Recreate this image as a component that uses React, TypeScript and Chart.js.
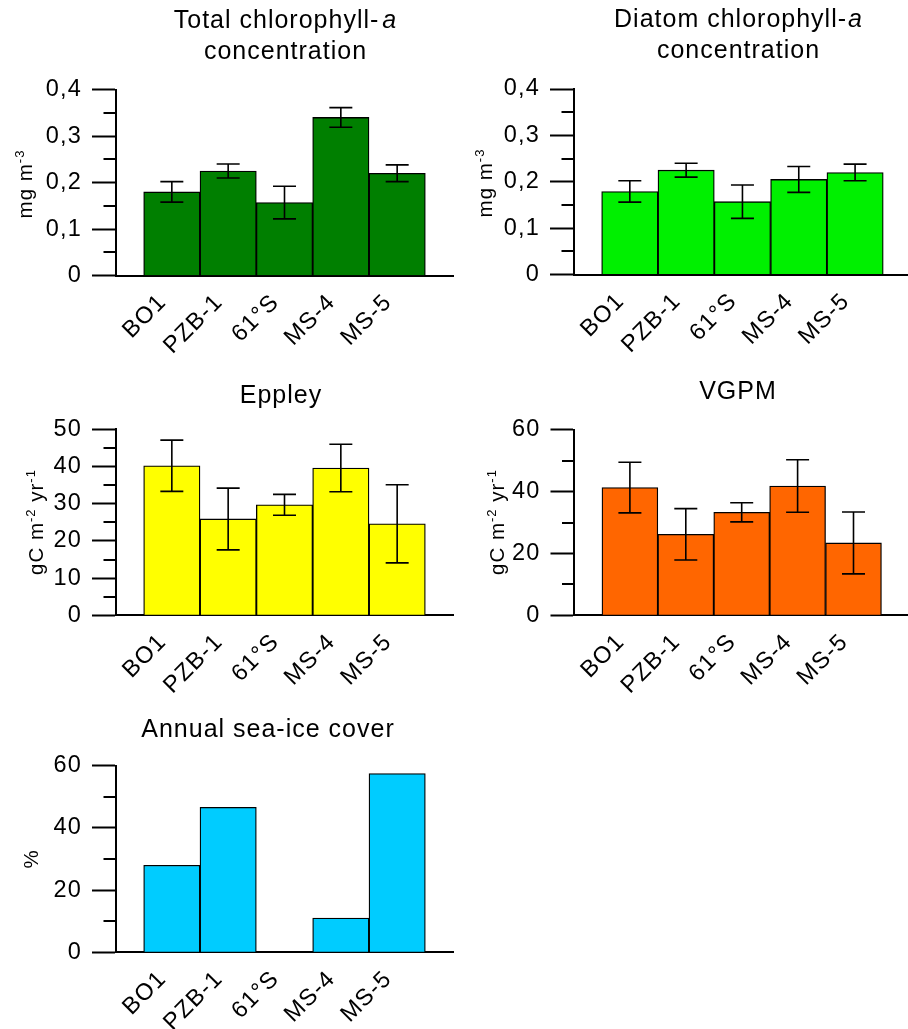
import React, { useEffect, useRef } from 'react';
import { Chart, registerables } from 'chart.js';

Chart.register(...registerables);

const FONT = "'Liberation Sans', Arial, Helvetica, sans-serif";
Chart.defaults.font.family = FONT;

// ---------- data ----------
const categories = ['BO1', 'PZB-1', '61°S', 'MS-4', 'MS-5'];

const totalChlValues = [0.18, 0.225, 0.157, 0.34, 0.22];
const totalChlErrors = [0.022, 0.015, 0.035, 0.021, 0.018];

const diatomChlValues = [0.179, 0.225, 0.157, 0.205, 0.22];
const diatomChlErrors = [0.023, 0.015, 0.036, 0.028, 0.018];

const eppleyValues = [40.2, 25.9, 29.7, 39.6, 24.6];
const eppleyErrors = [6.9, 8.3, 2.8, 6.4, 10.5];

const vgpmValues = [41.3, 26.2, 33.3, 41.8, 23.4];
const vgpmErrors = [8.2, 8.3, 3.1, 8.5, 10.0];

const seaIceValues: (number | null)[] = [28.0, 46.6, null, 11.0, 57.5];
const seaIceErrors: (number | null)[] = [null, null, null, null, null];

// axis ranges: [max, minor step, major step]
const chlAxis = [0.4, 0.05, 0.1];
const eppleyAxis = [50, 5, 10];
const vgpmAxis = [60, 10, 20];
const seaIceAxis = [60, 10, 20];

type Seg = { text: string; italic?: boolean; sup?: boolean; gap?: number };

interface PanelDef {
  key: string;
  values: (number | null)[];
  errors: (number | null)[];
  axis: number[];
  decimals: number;
  color: string;
  title: Seg[][];
  yTitle: Seg[];
  left: number; top: number; width: number; height: number;
  area: { left: number; top: number; right: number; bottom: number };
  titleCx: number; titleBaselines: number[];
  yTitleX: number; yTitleCy: number;
}

const panels: PanelDef[] = [
  {
    key: 'total', values: totalChlValues, errors: totalChlErrors, axis: chlAxis, decimals: 1,
    color: '#007f00',
    title: [[{ text: 'Total chlorophyll-' }, { text: 'a', italic: true, gap: 3 }], [{ text: 'concentration' }]],
    yTitle: [{ text: 'mg m' }, { text: '-3', sup: true }],
    left: 0, top: 0, width: 456, height: 360,
    area: { left: 115.5, top: 89.5, right: 453.5, bottom: 275.7 },
    titleCx: 285.5, titleBaselines: [28.3, 59.3],
    yTitleX: 32, yTitleCy: 184,
  },
  {
    key: 'diatom', values: diatomChlValues, errors: diatomChlErrors, axis: chlAxis, decimals: 1,
    color: '#00f000',
    title: [[{ text: 'Diatom chlorophyll-' }, { text: 'a', italic: true, gap: 1 }], [{ text: 'concentration' }]],
    yTitle: [{ text: 'mg m' }, { text: '-3', sup: true }],
    left: 454, top: 0, width: 460, height: 360,
    area: { left: 119.5, top: 89, right: 457.4, bottom: 274.5 },
    titleCx: 284.5, titleBaselines: [27, 58.3],
    yTitleX: 38, yTitleCy: 183,
  },
  {
    key: 'eppley', values: eppleyValues, errors: eppleyErrors, axis: eppleyAxis, decimals: 0,
    color: '#ffff00',
    title: [[{ text: 'Eppley' }]],
    yTitle: [{ text: 'gC m' }, { text: '-2', sup: true }, { text: ' yr' }, { text: '-1', sup: true }],
    left: 0, top: 350, width: 456, height: 345,
    area: { left: 115.5, top: 79.3, right: 453.5, bottom: 265.3 },
    titleCx: 281, titleBaselines: [53.3],
    yTitleX: 43, yTitleCy: 172,
  },
  {
    key: 'vgpm', values: vgpmValues, errors: vgpmErrors, axis: vgpmAxis, decimals: 0,
    color: '#ff6600',
    title: [[{ text: 'VGPM' }]],
    yTitle: [{ text: 'gC m' }, { text: '-2', sup: true }, { text: ' yr' }, { text: '-1', sup: true }],
    left: 454, top: 350, width: 460, height: 345,
    area: { left: 120, top: 79.7, right: 455.4, bottom: 265.3 },
    titleCx: 284, titleBaselines: [49.3],
    yTitleX: 50, yTitleCy: 172,
  },
  {
    key: 'seaice', values: seaIceValues, errors: seaIceErrors, axis: seaIceAxis, decimals: 0,
    color: '#00ccff',
    title: [[{ text: 'Annual sea-ice cover' }]],
    yTitle: [{ text: '%' }],
    left: 0, top: 690, width: 456, height: 339,
    area: { left: 115.5, top: 75.7, right: 453.5, bottom: 262.3 },
    titleCx: 268, titleBaselines: [46.7],
    yTitleX: 38, yTitleCy: 169,
  },
];

const TICK_SIZE = 23.5;
const TITLE_SIZE = 25;
const YTITLE_SIZE = 20.5;
const SUP_SIZE = 13;

function Panel({ p }: { p: PanelDef }) {
  const ref = useRef<HTMLCanvasElement>(null);

  useEffect(() => {
    const canvas = ref.current!;
    const [yMax, minorStep, majorStep] = p.axis;
    const isMajor = (v: number) => Math.abs(v / majorStep - Math.round(v / majorStep)) < 1e-6;
    const fmt = (v: number) => (Math.abs(v) < 1e-9 ? '0' : v.toFixed(p.decimals).replace('.', ','));

    const points = p.values
      .map((v, i) => (v == null ? null : { x: i + 1, y: v }))
      .filter((d) => d !== null) as { x: number; y: number }[];

    const spacingPlugin = {
      id: 'spacing',
      beforeDraw(chart: any) {
        chart.ctx.letterSpacing = '1.2px';
      },
    };

    const minorTicksPlugin = {
      id: 'minorTicks',
      afterDraw(chart: any) {
        const ys = chart.scales.y;
        const ctx = chart.ctx;
        ctx.save();
        ctx.strokeStyle = '#000';
        ctx.lineWidth = 2;
        ys.ticks.forEach((t: any) => {
          if (isMajor(t.value)) return;
          const y = Math.round(ys.getPixelForValue(t.value));
          ctx.beginPath();
          ctx.moveTo(chart.chartArea.left - 12, y);
          ctx.lineTo(chart.chartArea.left, y);
          ctx.stroke();
        });
        ctx.restore();
      },
    };

    const errorBarPlugin = {
      id: 'errorBars',
      afterDatasetsDraw(chart: any) {
        const meta = chart.getDatasetMeta(0);
        const ys = chart.scales.y;
        const ctx = chart.ctx;
        ctx.save();
        ctx.strokeStyle = '#000';
        ctx.lineWidth = 1.6;
        meta.data.forEach((el: any, j: number) => {
          const raw = points[j];
          const err = p.errors[raw.x - 1];
          if (err == null) return;
          const yHi = ys.getPixelForValue(raw.y + err);
          const yLo = ys.getPixelForValue(raw.y - err);
          const x = el.x;
          const hw = 11.5;
          ctx.beginPath();
          ctx.moveTo(x, yHi);
          ctx.lineTo(x, yLo);
          ctx.moveTo(x - hw, yHi);
          ctx.lineTo(x + hw, yHi);
          ctx.moveTo(x - hw, yLo);
          ctx.lineTo(x + hw, yLo);
          ctx.stroke();
        });
        ctx.restore();
      },
    };

    const titlePlugin = {
      id: 'richTitles',
      afterDraw(chart: any) {
        const ctx = chart.ctx;
        ctx.save();
        ctx.fillStyle = '#000';
        ctx.textAlign = 'left';
        ctx.textBaseline = 'alphabetic';
        ctx.letterSpacing = '1px';
        p.title.forEach((line, li) => {
          const fonts = line.map((s) => `${s.italic ? 'italic ' : ''}${TITLE_SIZE}px ${FONT}`);
          let total = 0;
          const widths = line.map((s, i) => {
            ctx.font = fonts[i];
            const w = ctx.measureText(s.text).width + (s.gap || 0);
            total += w;
            return w;
          });
          let x = p.titleCx - total / 2;
          line.forEach((s, i) => {
            ctx.font = fonts[i];
            ctx.fillText(s.text, x + (s.gap || 0), p.titleBaselines[li]);
            x += widths[i];
          });
        });
        // y axis title
        ctx.letterSpacing = '1px';
        ctx.translate(p.yTitleX, p.yTitleCy);
        ctx.rotate(-Math.PI / 2);
        const fonts = p.yTitle.map((s) => `${s.sup ? SUP_SIZE : YTITLE_SIZE}px ${FONT}`);
        let total = 0;
        const widths = p.yTitle.map((s, i) => {
          ctx.font = fonts[i];
          const w = ctx.measureText(s.text).width;
          total += w;
          return w;
        });
        let x = -total / 2;
        p.yTitle.forEach((s, i) => {
          ctx.font = fonts[i];
          ctx.fillText(s.text, x, s.sup ? -8 : 0);
          x += widths[i];
        });
        ctx.restore();
      },
    };

    const chart = new Chart(canvas, {
      type: 'bar',
      data: {
        datasets: [
          {
            data: points as any,
            backgroundColor: p.color,
            borderColor: '#000',
            borderWidth: 1.3,
            barPercentage: 1,
            categoryPercentage: 1,
          },
        ],
      },
      options: {
        responsive: false,
        animation: false,
        devicePixelRatio: 1,
        layout: {
          padding: { left: 0, top: p.area.top, right: p.width - p.area.right, bottom: 0 },
        },
        plugins: {
          legend: { display: false },
          tooltip: { enabled: false },
          title: { display: false },
        },
        scales: {
          x: {
            type: 'linear',
            min: 0,
            max: categories.length + 1,
            offset: false,
            z: 1,
            grid: { display: false, drawTicks: false },
            border: { display: true, color: '#000', width: 2 },
            afterBuildTicks: (s: any) => {
              s.ticks = categories.map((_, i) => ({ value: i + 1 }));
            },
            afterFit: (s: any) => {
              s.height = p.height - p.area.bottom;
            },
            ticks: {
              autoSkip: false,
              minRotation: 45,
              maxRotation: 45,
              padding: 13,
              labelOffset: -9,
              color: '#000',
              font: { size: TICK_SIZE, family: FONT },
              callback: (v: any) => categories[Math.round(v) - 1] ?? '',
            },
          },
          y: {
            min: 0,
            max: yMax,
            z: 1,
            grid: {
              display: true,
              drawOnChartArea: false,
              drawTicks: true,
              tickLength: 23.5,
              tickWidth: 2,
              tickColor: (c: any) => (c.tick && isMajor(c.tick.value) ? '#000' : 'rgba(0,0,0,0)'),
            },
            border: { display: true, color: '#000', width: 2 },
            afterFit: (s: any) => {
              s.width = p.area.left;
            },
            ticks: {
              stepSize: minorStep,
              autoSkip: false,
              padding: 10,
              color: '#000',
              font: { size: TICK_SIZE, family: FONT },
              callback: (v: any) => (isMajor(Number(v)) ? fmt(Number(v)) : ''),
            },
          },
        },
      } as any,
      plugins: [spacingPlugin, minorTicksPlugin, errorBarPlugin, titlePlugin],
    });

    return () => chart.destroy();
  }, [p]);

  return (
    <canvas
      ref={ref}
      width={p.width}
      height={p.height}
      style={{ position: 'absolute', left: p.left, top: p.top, width: p.width, height: p.height }}
    />
  );
}

export default function App() {
  return (
    <div
      style={{
        position: 'absolute',
        left: 0,
        top: 0,
        width: 908,
        height: 1029,
        overflow: 'hidden',
        background: '#fff',
      }}
    >
      {panels.map((p) => (
        <Panel key={p.key} p={p} />
      ))}
    </div>
  );
}
